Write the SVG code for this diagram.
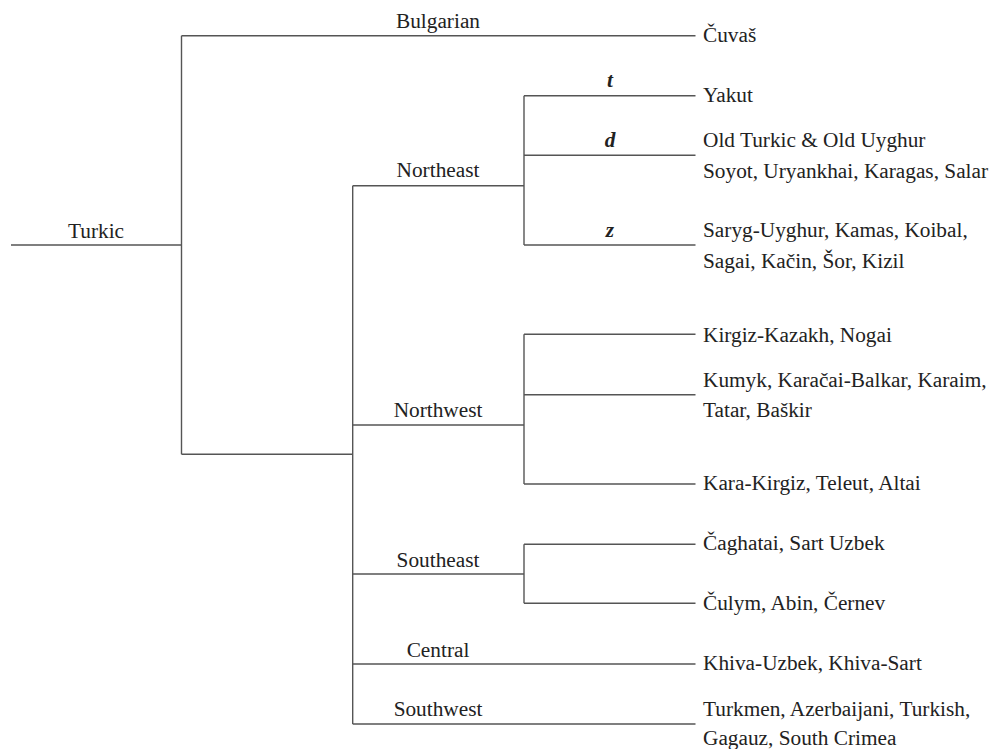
<svg xmlns="http://www.w3.org/2000/svg" width="990" height="749" viewBox="0 0 990 749">
  <style>
    .ln { fill: none; stroke: #555; stroke-width: 1.4; }
    .lbl { font-size: 21.3px; fill: #222; }
    .mid { text-anchor: middle; }
    .sound { font-weight: bold; font-style: italic; }
  </style>
  <rect width="990" height="749" fill="#fff"/>

  <!-- tree connectors -->
  <g id="connectors">
    <!-- root -->
    <path class="ln" d="M11,245 H181.5"/>
    <path class="ln" d="M181.5,35.7 V454.3"/>
    <path class="ln" d="M181.5,35.7 H695.5"/>
    <path class="ln" d="M181.5,454.3 H352.7"/>
    <!-- main branches -->
    <path class="ln" d="M352.7,185.7 V724"/>
    <path class="ln" d="M352.7,185.7 H524"/>
    <path class="ln" d="M352.7,425 H524"/>
    <path class="ln" d="M352.7,574 H524"/>
    <path class="ln" d="M352.7,664 H695.5"/>
    <path class="ln" d="M352.7,724 H695.5"/>
    <!-- Northeast -->
    <path class="ln" d="M524,95.7 V245"/>
    <path class="ln" d="M524,95.7 H695.5"/>
    <path class="ln" d="M524,155.3 H695.5"/>
    <path class="ln" d="M524,245 H695.5"/>
    <!-- Northwest -->
    <path class="ln" d="M524,334.3 V484"/>
    <path class="ln" d="M524,334.3 H695.5"/>
    <path class="ln" d="M524,394.7 H695.5"/>
    <path class="ln" d="M524,484 H695.5"/>
    <!-- Southeast -->
    <path class="ln" d="M524,544.3 V603.3"/>
    <path class="ln" d="M524,544.3 H695.5"/>
    <path class="ln" d="M524,603.3 H695.5"/>
  </g>

  <g class="lbl" font-family="'Liberation Serif', Tinos, 'Times New Roman', 'DejaVu Serif', serif">
    <g id="turkic"><text class="mid" x="96" y="238">Turkic</text></g>
    <g id="bulgarian"><text class="mid" x="438" y="28">Bulgarian</text></g>
    <g id="northeast"><text class="mid" x="438" y="177">Northeast</text></g>
    <g id="northwest"><text class="mid" x="438" y="416.5">Northwest</text></g>
    <g id="southeast"><text class="mid" x="438" y="566.5">Southeast</text></g>
    <g id="central"><text class="mid" x="438" y="656.5">Central</text></g>
    <g id="southwest"><text class="mid" x="438" y="716">Southwest</text></g>

    <g id="sound-t"><text class="mid sound" x="610" y="87">t</text></g>
    <g id="sound-d"><text class="mid sound" x="610" y="147">d</text></g>
    <g id="sound-z"><text class="mid sound" x="610" y="237">z</text></g>

    <g id="cuvas"><text x="703" y="41.7">Čuvaš</text></g>
    <g id="yakut"><text x="703" y="101.7">Yakut</text></g>
    <g id="old-turkic">
      <text x="703" y="147.3">Old Turkic &amp; Old Uyghur</text>
      <text x="703" y="178.3">Soyot, Uryankhai, Karagas, Salar</text>
    </g>
    <g id="saryg-uyghur">
      <text x="703" y="237.3">Saryg-Uyghur, Kamas, Koibal,</text>
      <text x="703" y="267.7">Sagai, Kačin, Šor, Kizil</text>
    </g>
    <g id="kirgiz-kazakh"><text x="703" y="341.7">Kirgiz-Kazakh, Nogai</text></g>
    <g id="kumyk">
      <text x="703" y="387.3">Kumyk, Karačai-Balkar, Karaim,</text>
      <text x="703" y="417.3">Tatar, Baškir</text>
    </g>
    <g id="kara-kirgiz"><text x="703" y="490">Kara-Kirgiz, Teleut, Altai</text></g>
    <g id="caghatai"><text x="703" y="550">Čaghatai, Sart Uzbek</text></g>
    <g id="culym"><text x="703" y="610">Čulym, Abin, Černev</text></g>
    <g id="khiva"><text x="703" y="670">Khiva-Uzbek, Khiva-Sart</text></g>
    <g id="turkmen">
      <text x="703" y="716">Turkmen, Azerbaijani, Turkish,</text>
      <text x="703" y="745">Gagauz, South Crimea</text>
    </g>
  </g>
</svg>
